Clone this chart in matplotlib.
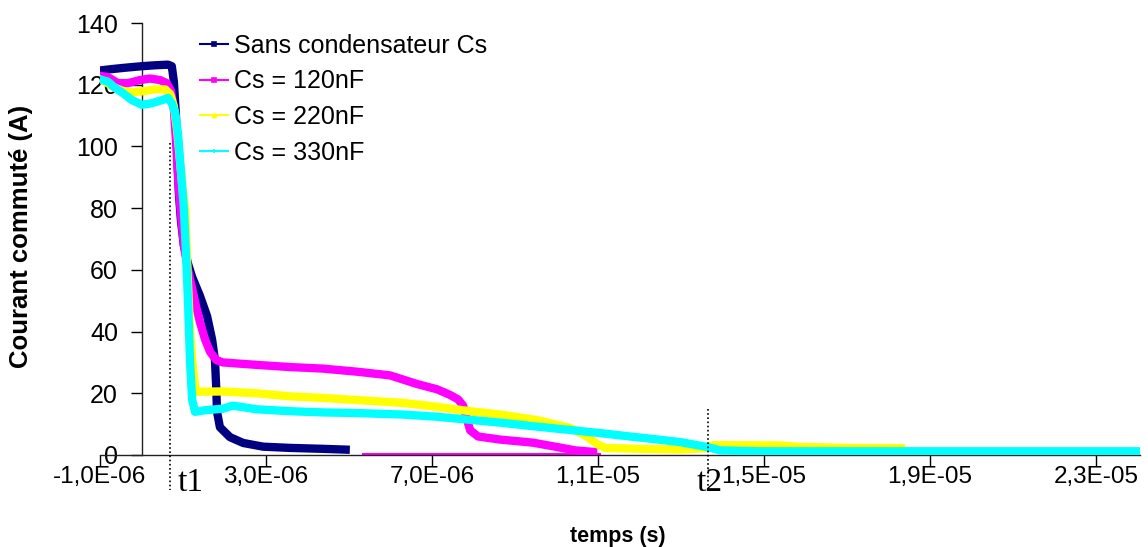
import matplotlib
matplotlib.use("Agg")
import matplotlib.pyplot as plt
from matplotlib.lines import Line2D
from matplotlib.ticker import FuncFormatter, MultipleLocator

plt.rcParams['font.family'] = ['Liberation Sans', 'DejaVu Sans']

# ---- data (time in microseconds, current in A) ----
t_sans = [-1.07, -0.76, -0.40, 0.01, 0.33, 0.64, 0.73, 0.78, 0.83, 0.87, 0.90, 0.95,
          1.02, 1.12, 1.22, 1.41, 1.58, 1.70, 1.77, 1.80, 1.82, 1.89, 2.13, 2.45,
          2.93, 3.58, 4.37, 5.02]
i_sans = [124.5, 125.0, 125.5, 126.0, 126.3, 126.5, 126.0, 121.0, 110.0, 95.0, 85.0, 76.0,
          68.0, 62.0, 57.7, 51.5, 45.0, 37.5, 30.8, 22.0, 14.0, 9.0, 5.8, 3.9,
          2.7, 2.3, 2.0, 1.7]

t_120 = [-1.07, -0.81, -0.57, -0.33, -0.04, 0.20, 0.45, 0.61, 0.71, 0.78, 0.83, 0.88,
         0.95, 1.02, 1.12, 1.22, 1.31, 1.41, 1.53, 1.65, 1.80, 1.96, 2.78, 3.58,
         4.37, 5.19, 5.99, 6.64, 7.12, 7.43, 7.63, 7.75, 7.82, 7.92, 8.11, 8.64,
         9.43, 10.01, 10.45, 10.98]
i_120 = [123.0, 122.5, 120.5, 120.5, 121.5, 122.0, 121.5, 120.5, 118.0, 112.0, 102.0, 90.0,
         78.0, 68.0, 60.0, 54.0, 48.5, 43.0, 37.5, 33.5, 30.8, 30.0, 29.2, 28.5,
         28.0, 27.0, 25.8, 23.0, 21.3, 19.5, 18.0, 16.0, 12.5, 8.0, 6.0, 5.0,
         4.0, 2.6, 1.5, 0.9]
t_120_tail = [5.34, 11.05]
i_120_tail = [0.4, 0.4]

t_220 = [-1.07, -0.88, -0.64, -0.45, -0.20, 0.08, 0.33, 0.57, 0.69, 0.78, 0.86, 0.93,
         1.00, 1.05, 1.10, 1.17, 1.22, 1.29, 1.36, 1.96, 2.78, 3.58, 4.37, 5.19,
         6.30, 7.12, 7.92, 8.71, 9.53, 10.33, 10.73, 10.98, 11.17, 12.01, 12.98, 13.58,
         13.77, 15.39, 15.87, 17.07, 18.40]
i_220 = [122.0, 121.0, 119.0, 118.0, 117.5, 118.0, 118.5, 118.5, 117.0, 113.0, 105.0, 95.0,
         85.0, 80.0, 62.0, 40.0, 31.0, 22.0, 20.5, 20.6, 20.0, 19.0, 18.5, 17.8,
         16.9, 15.6, 14.2, 13.0, 11.3, 8.8, 6.0, 3.5, 2.3, 2.0, 1.8, 2.2,
         3.2, 3.1, 2.6, 2.3, 2.2]

t_330 = [-1.07, -0.81, -0.64, -0.47, -0.23, 0.01, 0.25, 0.49, 0.64, 0.73, 0.81, 0.88,
         0.95, 1.02, 1.07, 1.12, 1.17, 1.22, 1.29, 1.53, 1.96, 2.20, 2.78, 3.58,
         4.37, 5.19, 6.30, 7.12, 7.92, 8.71, 9.53, 10.33, 11.12, 11.77, 12.18, 12.98,
         13.63, 13.94, 14.90, 18.28, 24.06]
i_330 = [122.0, 121.0, 119.0, 117.5, 115.0, 113.5, 114.0, 115.0, 115.7, 114.0, 111.0, 104.0,
         92.0, 80.0, 66.0, 50.0, 30.0, 18.0, 14.0, 14.5, 15.0, 16.0, 14.8, 14.2,
         13.8, 13.6, 13.1, 12.4, 11.4, 10.4, 9.2, 8.1, 7.0, 6.0, 5.4, 4.2,
         2.6, 1.5, 1.2, 1.2, 1.2]

labels = ["Sans condensateur Cs", "Cs = 120nF", "Cs = 220nF", "Cs = 330nF"]
colors = ["#000080", "#FF00FF", "#FFFF00", "#00FFFF"]
markers = ["s", "s", "^", "+"]

t1_us, t2_us = 0.69, 13.65
t1_top, t2_top = 101.0, 15.0
x_ticks_us = [-1, 3, 7, 11, 15, 19, 23]

US = 1e-6

fig = plt.figure(figsize=(11.48, 5.47), dpi=100)
ax = fig.add_axes([100/1148, 1 - 455/547, 1040/1148, 432/547])

series = [(t_sans, i_sans), (t_120, i_120), (t_220, i_220), (t_330, i_330)]
for (t, i), c in zip(series, colors):
    ax.plot([v * US for v in t], i, color=c, lw=6, solid_joinstyle='round',
            solid_capstyle='butt', zorder=3)
ax.plot([v * US for v in t_120_tail], i_120_tail, color=colors[1], lw=1.5, zorder=2)

ax.set_xlim(-1.0e-6, 24.06e-6)
ax.set_ylim(0, 140)

# dotted markers t1 / t2
for tt, top in [(t1_us, t1_top), (t2_us, t2_top)]:
    ax.plot([tt * US, tt * US], [top, -11.5], color='black', lw=1.2, ls=(0, (1, 1.5)),
            clip_on=False, zorder=4)
ax.text(t1_us * US + 0.18e-6, -4.2, "t1", family='Liberation Serif', fontsize=24,
        va='top', ha='left')
ax.text(t2_us * US - 0.27e-6, -4.2, "t2", family='Liberation Serif', fontsize=24,
        va='top', ha='left')

ax.spines['top'].set_visible(False)
ax.spines['right'].set_visible(False)
ax.spines['left'].set_position(('data', 0))
for s in ['left', 'bottom']:
    ax.spines[s].set_linewidth(1.0)
    ax.spines[s].set_color('#222222')

ax.xaxis.set_major_locator(plt.FixedLocator([v * US for v in x_ticks_us]))
ax.xaxis.set_major_formatter(FuncFormatter(lambda v, p: f"{v:.1E}".replace('.', ',')))
ax.yaxis.set_major_locator(MultipleLocator(20))
ax.tick_params(axis='x', direction='out', length=8, width=1, pad=0, labelsize=17.5)
ax.tick_params(axis='y', direction='out', length=8, width=1, pad=9, labelsize=18)

ax.set_ylabel("Courant commuté (A)", fontsize=18.5, fontweight='bold', labelpad=0)
ax.yaxis.set_label_coords((33 - 100) / 1040, 0.505)
ax.set_xlabel("temps (s)", fontsize=15.5, fontweight='bold')
ax.xaxis.set_label_coords((618 - 100) / 1040, -(526 - 455) / 432)

handles = [Line2D([0], [0], color=c, lw=1.5, marker=m, markersize=3,
                  markeredgewidth=1.2) for c, m in zip(colors, markers)]
fig.legend(handles, labels, loc='upper left', bbox_to_anchor=(200/1148, 1 - 34/547),
           frameon=False, fontsize=18, handlelength=1.1, handletextpad=0.25,
           labelspacing=0.46, borderpad=0, borderaxespad=0)

fig.savefig("out.png", dpi=100)
